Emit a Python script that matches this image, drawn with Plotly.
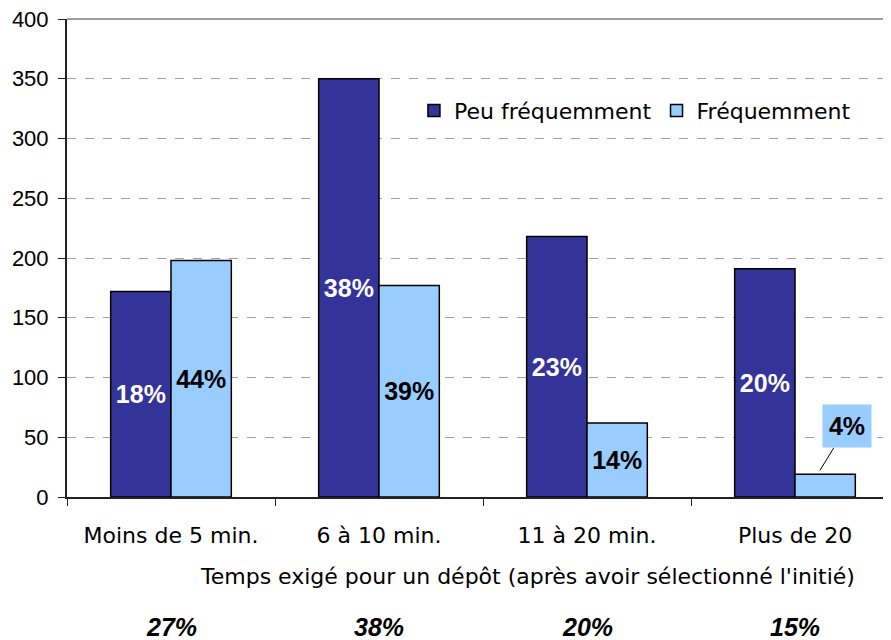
import plotly.graph_objects as go

categories = ["Moins de 5 min.", "6 à 10 min.", "11 à 20 min.", "Plus de 20"]
peu_values = [172, 350, 218, 191]
freq_values = [198, 177, 62, 19]
peu_labels = ["18%", "38%", "23%", "20%"]
freq_labels = ["44%", "39%", "14%", "4%"]
category_shares = ["27%", "38%", "20%", "15%"]
y_ticks = [0, 50, 100, 150, 200, 250, 300, 350, 400]
x_title = "Temps exigé pour un dépôt (après avoir sélectionné l'initié)"

DARK = "#333399"
LIGHT = "#99CCFF"
FONT = "Liberation Sans, Arial, sans-serif"
WIDE = "DejaVu Sans, Verdana, sans-serif"
BOLD = "Liberation Sans, Arial, sans-serif"

fig = go.Figure()
fig.add_trace(go.Bar(
    x=categories, y=peu_values, name="Peu fréquemment",
    marker=dict(color=DARK, line=dict(color="#000000", width=1.5)),
    text=peu_labels, textposition="inside", insidetextanchor="middle",
    textfont=dict(family=BOLD, size=25, color="white", weight="bold"),
    textangle=0,
))
# last light bar label is drawn as a callout instead
freq_text = freq_labels[:-1] + [""]
fig.add_trace(go.Bar(
    x=categories, y=freq_values, name="Fréquemment",
    marker=dict(color=LIGHT, line=dict(color="#000000", width=1.5)),
    text=freq_text, textposition="inside", insidetextanchor="middle",
    textfont=dict(family=BOLD, size=25, color="black", weight="bold"),
    textangle=0,
))

# callout for the small bar
fig.add_annotation(
    x=categories[3], y=freq_values[3], xshift=25, yshift=4,
    text="<b>" + freq_labels[3] + "</b>",
    font=dict(family=BOLD, size=25, color="black"),
    bgcolor=LIGHT, width=46, height=40,
    showarrow=True, arrowhead=0, arrowwidth=1, arrowcolor="black",
    ax=27, ay=-44,
)

# axis title (offset to the right as in the original)
fig.add_annotation(
    x=0.553, y=-0.167, xref="paper", yref="paper", xanchor="center", yanchor="middle",
    text=x_title, showarrow=False, font=dict(family=WIDE, size=22, color="black"),
)

for cat, share in zip(categories, category_shares):
    fig.add_annotation(
        x=cat, y=-0.272, yref="paper", xref="x", yanchor="middle",
        text="<b><i>" + share + "</i></b>", showarrow=False,
        font=dict(family=BOLD, size=25, color="black"),
    )

# top border line
fig.add_shape(type="line", xref="paper", yref="paper", x0=0, x1=1, y0=1, y1=1,
              line=dict(color="#A0A0A0", width=2))

fig.update_layout(
    width=891, height=640,
    margin=dict(l=59, r=0, t=11, b=151, autoexpand=False),
    paper_bgcolor="white", plot_bgcolor="white",
    barmode="group", bargap=0.42, bargroupgap=0,
    font=dict(family=FONT, size=18, color="black"),
    legend=dict(orientation="h", x=0.417, y=0.852, xanchor="left", yanchor="top",
                font=dict(family=WIDE, size=22), bgcolor="rgba(0,0,0,0)",
                itemwidth=30, traceorder="normal"),
    xaxis=dict(
        type="category", showline=True, linecolor="#222222", linewidth=2,
        ticks="outside", tickson="boundaries", ticklen=7, tickcolor="#222222",
        tickfont=dict(family=WIDE, size=22), ticklabelstandoff=18,
        showgrid=False, range=[-0.5, 3.5], automargin=False,
        ticklabeloverflow="allow",
    ),
    yaxis=dict(
        range=[0, 400], tickvals=y_ticks, showline=True, linecolor="#222222",
        linewidth=2, ticks="outside", ticklen=7, tickcolor="#222222",
        tickfont=dict(family=FONT, size=22), ticklabelstandoff=5, showgrid=True,
        gridcolor="#A0A0A0", griddash="dash", gridwidth=1, zeroline=False,
        automargin=False, ticklabeloverflow="allow",
    ),
)

fig.write_html("out.html")
